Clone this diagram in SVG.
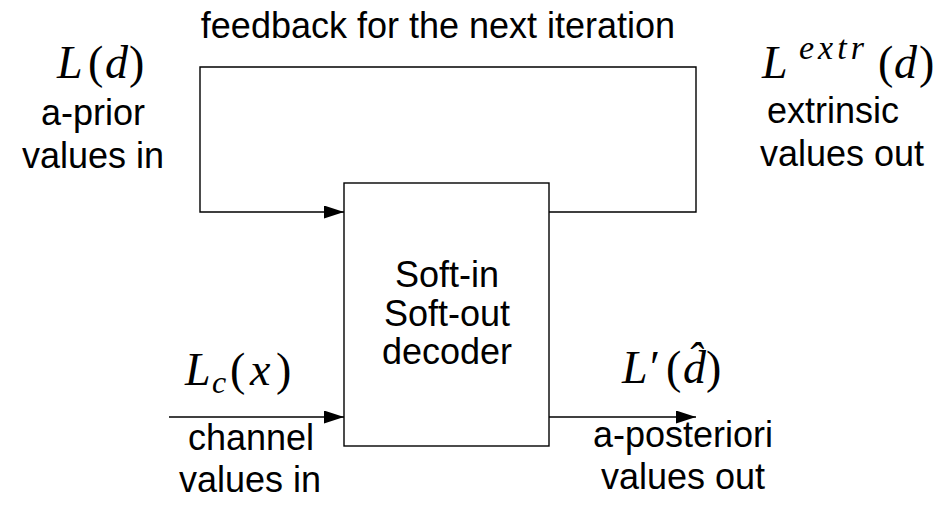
<svg xmlns="http://www.w3.org/2000/svg" width="935" height="506" viewBox="0 0 935 506">
  <style>
    .lbl { font-family: "Liberation Sans", Arial, sans-serif; font-size: 36px; fill: #000; text-anchor: middle; }
    .math { font-family: "Liberation Serif", "Times New Roman", serif; font-size: 46px; fill: #000; }
    .script { font-size: 32px; }
    .mi { font-style: italic; }
    .wire { fill: none; stroke: #000; stroke-width: 1.4; }
    .box { fill: #fff; stroke: #000; stroke-width: 1.4; }
  </style>
  <defs>
    <marker id="arrow" markerWidth="20" markerHeight="13" refX="20" refY="6.5" orient="auto" markerUnits="userSpaceOnUse">
      <path d="M0,0 L20,6.5 L0,13 Z" fill="#000"/>
    </marker>
  </defs>
  <rect width="935" height="506" fill="#fff"/>

  <g id="connectors">
    <!-- feedback loop: extrinsic output back to a-priori input -->
    <path class="wire" d="M549,212 H696 V67 H200 V212 H344" marker-end="url(#arrow)"/>
    <!-- channel values input -->
    <line class="wire" x1="169" y1="417" x2="344" y2="417" marker-end="url(#arrow)"/>
    <!-- a-posteriori output -->
    <line class="wire" x1="549" y1="417" x2="696" y2="417" marker-end="url(#arrow)"/>
  </g>

  <g id="decoder">
    <rect class="box" x="344" y="183" width="205" height="263"/>
    <text class="lbl" x="447" y="287">Soft-in</text>
    <text class="lbl" x="447" y="326">Soft-out</text>
    <text class="lbl" x="447" y="364">decoder</text>
  </g>

  <g id="feedback-label">
    <text class="lbl" x="438" y="38">feedback for the next iteration</text>
  </g>

  <g id="apriori-in">
    <text class="math" y="78"><tspan class="mi" x="57">L</tspan><tspan x="88">(</tspan><tspan class="mi" x="105">d</tspan><tspan x="129">)</tspan></text>
    <text class="lbl" x="93" y="125">a-prior</text>
    <text class="lbl" x="93" y="168">values in</text>
  </g>

  <g id="extrinsic-out">
    <text class="math" y="78"><tspan class="mi" x="762">L</tspan><tspan class="mi" x="799" y="59" font-size="34" letter-spacing="4">extr</tspan><tspan x="878" y="78">(</tspan><tspan class="mi" x="894">d</tspan><tspan x="919">)</tspan></text>
    <text class="lbl" x="833" y="123">extrinsic</text>
    <text class="lbl" x="842" y="166">values out</text>
  </g>

  <g id="channel-in">
    <text class="math" y="385"><tspan class="mi" x="185">L</tspan><tspan class="mi script" x="212" y="393">c</tspan><tspan x="230" y="385">(</tspan><tspan class="mi" x="250">x</tspan><tspan x="276">)</tspan></text>
    <text class="lbl" x="251" y="450">channel</text>
    <text class="lbl" x="250" y="492">values in</text>
  </g>

  <g id="aposteriori-out">
    <text class="math" y="383"><tspan class="mi" x="622">L</tspan><tspan x="650">′</tspan><tspan x="666">(</tspan><tspan class="mi" x="683">d&#x302;</tspan><tspan x="706">)</tspan></text>
    <text class="lbl" x="683" y="447">a-posteriori</text>
    <text class="lbl" x="683" y="489">values out</text>
  </g>
</svg>
